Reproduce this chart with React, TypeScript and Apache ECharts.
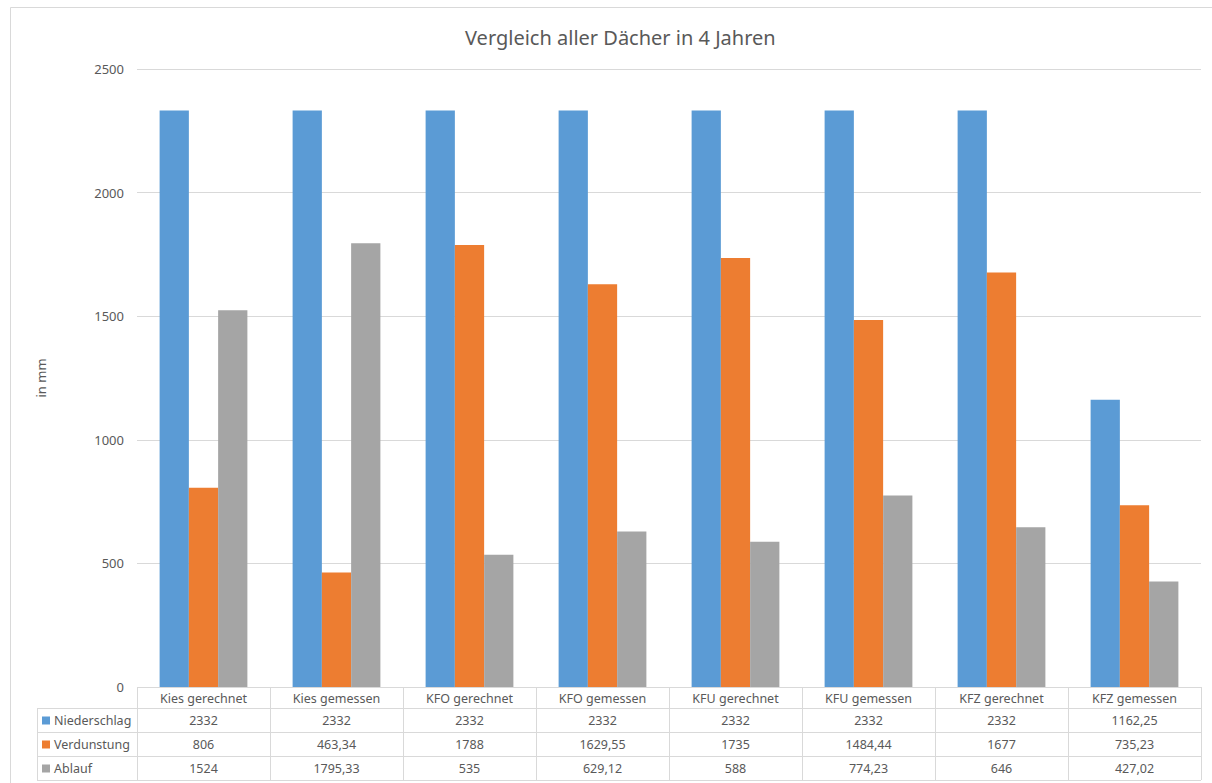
import React, { useEffect, useRef } from "react";
import * as echarts from "echarts";

const categories = [
  "Kies gerechnet",
  "Kies gemessen",
  "KFO gerechnet",
  "KFO gemessen",
  "KFU gerechnet",
  "KFU gemessen",
  "KFZ gerechnet",
  "KFZ gemessen",
];
const niederschlag = [2332, 2332, 2332, 2332, 2332, 2332, 2332, 1162.25];
const verdunstung = [806, 463.34, 1788, 1629.55, 1735, 1484.44, 1677, 735.23];
const ablauf = [1524, 1795.33, 535, 629.12, 588, 774.23, 646, 427.02];
const seriesNames = ["Niederschlag", "Verdunstung", "Ablauf"];
const seriesColors = ["#5B9BD5", "#ED7D31", "#A5A5A5"];
const yTicks = { min: 0, max: 2500, interval: 500 };

const W = 1212;
const H = 783;
const FONT = "'Noto Sans', 'Open Sans', sans-serif";
const TXT = "#595959";
const LINE = "#d9d9d9";

const gridLeft = 137;
const gridRight = 1201;
const gridTop = 69;
const gridBottom = 687;
const headerH = 21;
const rowH = 24;
const legendLeft = 37;

const fmt = (v: number) => String(v).replace(".", ",");

export default function App() {
  const ref = useRef<HTMLDivElement>(null);
  useEffect(() => {
    if (!ref.current) return;
    const chart = echarts.init(ref.current, null, { renderer: "svg" });
    const seriesData = [niederschlag, verdunstung, ablauf];
    const colW = (gridRight - gridLeft) / categories.length;
    const g: any[] = [];
    g.push({
      type: "rect",
      shape: { x: 10.5, y: 7.5, width: W + 20, height: H + 20 },
      style: { fill: "none", stroke: LINE, lineWidth: 1 },
      silent: true,
    });
    const rowsTop = gridBottom + headerH;
    const tableBottom = rowsTop + rowH * seriesNames.length;
    g.push({
      type: "line",
      shape: { x1: gridLeft, y1: gridBottom + 0.5, x2: gridRight, y2: gridBottom + 0.5 },
      style: { stroke: LINE, lineWidth: 1 },
    });
    for (let r = 0; r <= seriesNames.length; r++) {
      const y = rowsTop + r * rowH + 0.5;
      g.push({
        type: "line",
        shape: { x1: legendLeft, y1: y, x2: gridRight, y2: y },
        style: { stroke: LINE, lineWidth: 1 },
      });
    }
    g.push({
      type: "line",
      shape: { x1: legendLeft + 0.5, y1: rowsTop, x2: legendLeft + 0.5, y2: tableBottom },
      style: { stroke: LINE, lineWidth: 1 },
    });
    for (let c = 0; c <= categories.length; c++) {
      const x = Math.round(gridLeft + c * colW) + 0.5;
      g.push({
        type: "line",
        shape: { x1: x, y1: gridBottom, x2: x, y2: tableBottom },
        style: { stroke: LINE, lineWidth: 1 },
      });
    }
    categories.forEach((cat, c) => {
      g.push({
        type: "text",
        x: gridLeft + (c + 0.5) * colW,
        y: gridBottom + headerH / 2 + 0.5,
        style: {
          text: cat,
          fill: TXT,
          font: `12.5px ${FONT}`,
          align: "center",
          verticalAlign: "middle",
        },
      });
    });
    seriesNames.forEach((name, r) => {
      const yc = rowsTop + r * rowH + rowH / 2 + 0.5;
      g.push({
        type: "rect",
        shape: { x: legendLeft + 5, y: yc - 4, width: 8, height: 8 },
        style: { fill: seriesColors[r] },
      });
      g.push({
        type: "text",
        x: legendLeft + 17,
        y: yc,
        style: {
          text: name,
          fill: TXT,
          font: `12.5px ${FONT}`,
          align: "left",
          verticalAlign: "middle",
        },
      });
      seriesData[r].forEach((v, c) => {
        g.push({
          type: "text",
          x: gridLeft + (c + 0.5) * colW,
          y: yc,
          style: {
            text: fmt(v),
            fill: TXT,
            font: `12.5px ${FONT}`,
            align: "center",
            verticalAlign: "middle",
          },
        });
      });
    });

    chart.setOption({
      animation: false,
      title: {
        text: "Vergleich aller Dächer in 4 Jahren",
        left: 460,
        top: 22,
        textStyle: { color: TXT, fontSize: 20, fontWeight: "normal", fontFamily: FONT },
      },
      grid: {
        left: gridLeft,
        right: W - gridRight,
        top: gridTop,
        bottom: H - gridBottom,
      },
      xAxis: {
        type: "category",
        data: categories,
        axisLine: { show: false },
        axisTick: { show: false },
        axisLabel: { show: false },
      },
      yAxis: {
        type: "value",
        min: yTicks.min,
        max: yTicks.max,
        interval: yTicks.interval,
        name: "in mm",
        nameLocation: "middle",
        nameGap: 90,
        nameTextStyle: { color: TXT, fontSize: 13, fontFamily: FONT },
        axisLabel: {
          color: TXT,
          fontSize: 13,
          fontFamily: FONT,
          margin: 13,
          formatter: (v: number) => String(v),
        },
        axisLine: { show: false },
        axisTick: { show: false },
        splitLine: { lineStyle: { color: LINE, width: 1 } },
      },
      series: seriesNames.map((name, i) => ({
        name,
        type: "bar",
        data: seriesData[i],
        barWidth: "22%",
        barGap: "0%",
        itemStyle: { color: seriesColors[i] },
      })),
      graphic: g,
    });
    return () => chart.dispose();
  }, []);
  return (
    <div
      ref={ref}
      style={{ position: "absolute", left: 0, top: 0, width: W, height: H, background: "#fff" }}
    />
  );
}
